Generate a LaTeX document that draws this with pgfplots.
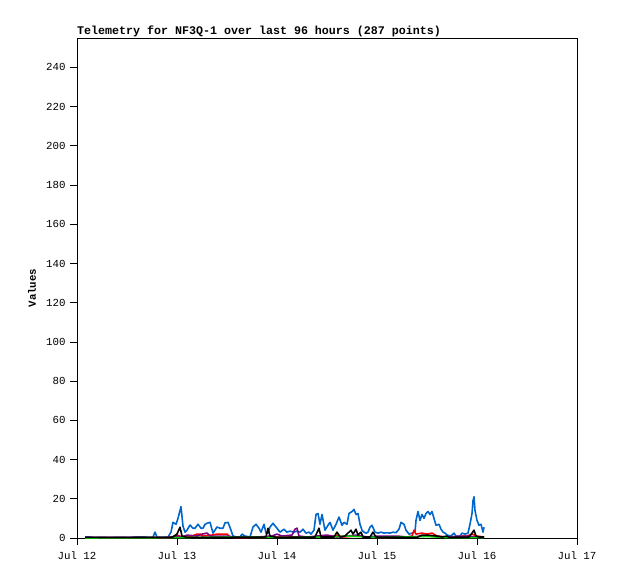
\documentclass[border=0pt]{standalone}
\usepackage{pgfplots}
\pgfplotsset{compat=1.18}
\usepackage{fontspec}
\setmainfont{Liberation Mono}
\definecolor{cblue}{RGB}{0,102,204}
\definecolor{cpurple}{RGB}{128,0,128}
\definecolor{cgreen}{RGB}{0,204,0}
\begin{document}
\begin{tikzpicture}
\begin{axis}[name=ax,
  width=500bp, height=500bp, scale only axis,
  xmin=0, xmax=5, ymin=0, ymax=255,
  xtick={0,1,2,3,4,5},
  xticklabels={Jul 12,Jul 13,Jul 14,Jul 15,Jul 16,Jul 17},
  ytick={0,20,...,240},
  tick pos=left, tick align=outside, major tick length=7bp,
  tick style={black, line width=0.8pt},
  axis line style={line width=0.8pt},
  /pgf/number format/assume math mode=true,
  ticklabel style={font=\fontsize{10.8}{12}\selectfont},
  yticklabel style={xshift=-1bp},
  xticklabel style={yshift=-3bp},
  title={Telemetry for NF3Q-1 over last 96 hours (287 points)},
  title style={at={(0,1)}, anchor=base west, inner sep=0pt, yshift=-2.5bp, font=\bfseries\fontsize{11.7}{13}\selectfont},
  ylabel={Values},
  ylabel style={at={(axis description cs:-0.09,0.5)}, anchor=center, font=\bfseries\fontsize{10.8}{12}\selectfont},
  every axis plot/.append style={line width=1.6pt, line join=round},
]
\addplot[cblue] coordinates {(0.08,0.5)(0.13,0.5)(0.18,0.2)(0.23,0.3)(0.33,0.2)(0.43,0.3)(0.53,0.2)(0.58,0.5)(0.63,0.5)(0.68,0.5)(0.73,0.2)(0.76,0.5)(0.78,3)(0.80,0.5)(0.85,0.3)(0.91,0.5)(0.94,3)(0.96,8)(0.99,7)(1.01,10)(1.03,14)(1.04,16)(1.06,6)(1.08,3)(1.10,4)(1.13,6.6)(1.16,5)(1.18,5)(1.21,7)(1.24,5)(1.26,5)(1.28,7)(1.30,7.5)(1.33,8)(1.36,2.5)(1.40,5.6)(1.43,5)(1.46,5)(1.48,7.7)(1.51,8)(1.54,4)(1.56,1)(1.60,0.5)(1.63,0.5)(1.65,2)(1.68,1)(1.73,0.5)(1.76,5.6)(1.79,7)(1.82,5)(1.84,3)(1.87,7)(1.89,2.5)(1.91,2.5)(1.93,5.6)(1.96,7.5)(1.99,5.6)(2.03,3)(2.07,4.5)(2.10,3)(2.13,3.5)(2.17,3)(2.20,3.5)(2.23,3)(2.26,4.5)(2.29,2.5)(2.32,3)(2.34,2)(2.37,4)(2.39,12)(2.41,12.5)(2.43,7)(2.45,12)(2.48,4)(2.51,6.5)(2.53,8)(2.56,4)(2.59,7)(2.62,10.7)(2.65,6.5)(2.67,8)(2.70,7)(2.72,12.5)(2.75,13.5)(2.77,14.6)(2.79,12)(2.81,12.5)(2.83,7)(2.85,4)(2.87,3)(2.89,2.5)(2.91,3)(2.93,5.5)(2.95,6.5)(2.98,3)(3.01,2.5)(3.04,3)(3.07,2.5)(3.10,2.7)(3.13,2.5)(3.16,3)(3.19,2.7)(3.22,4.5)(3.24,8)(3.27,7)(3.29,4)(3.32,2)(3.35,2.5)(3.38,3)(3.39,9)(3.41,13.5)(3.43,9)(3.45,12)(3.47,10)(3.49,12.5)(3.51,13.5)(3.53,12)(3.55,13.5)(3.57,10)(3.59,6.5)(3.62,7)(3.64,4.5)(3.66,3)(3.68,2.5)(3.70,1.5)(3.74,1)(3.77,2.5)(3.79,1)(3.83,1)(3.85,2.5)(3.88,2)(3.91,2.5)(3.93,7)(3.95,12.5)(3.96,19)(3.97,21)(3.98,14)(4.00,9)(4.02,6.5)(4.04,7)(4.06,3)(4.07,5.5)};
\addplot[red] coordinates {(0.08,0.2)(0.95,0.2)(1.00,1.5)(1.05,0.5)(1.15,1)(1.20,2)(1.23,2)(1.25,1)(1.35,1.5)(1.40,2)(1.45,2)(1.50,2)(1.53,0.5)(1.60,0.2)(2.00,0.5)(2.30,0.5)(2.50,0.5)(2.62,1.5)(2.65,0.5)(2.80,1)(2.90,0.5)(3.00,0.3)(3.30,0.5)(3.35,1)(3.37,4)(3.39,2)(3.45,2.5)(3.50,2)(3.55,2.5)(3.60,1)(3.70,0.5)(3.90,1)(3.95,2)(4.00,1)(4.07,0.5)};
\addplot[cpurple] coordinates {(0.08,0.3)(0.30,0.3)(0.90,0.3)(1.00,1)(1.05,0.5)(1.10,1.5)(1.20,1)(1.25,2)(1.30,2.5)(1.33,1)(1.40,1)(1.50,1)(1.60,0.3)(1.80,0.5)(1.95,1)(2.00,2)(2.05,1)(2.15,1.5)(2.18,4.5)(2.20,5)(2.22,1)(2.30,0.5)(2.40,1)(2.50,1.5)(2.60,0.5)(2.70,1)(2.80,1.5)(2.90,0.5)(3.00,1)(3.20,1)(3.30,0.5)(3.50,1)(3.70,0.5)(3.90,1)(4.00,0.5)(4.07,0.3)};
\addplot[cgreen] coordinates {(0.08,0)(1.00,0.2)(1.50,0.5)(2.00,0.3)(2.50,0.5)(2.70,1)(3.00,0.3)(3.50,0.8)(3.70,0.2)(4.07,0.2)};
\addplot[black] coordinates {(0.08,0.3)(0.50,0.3)(0.95,0.3)(1.00,2)(1.03,5.5)(1.05,1)(1.10,0.3)(1.40,0.3)(1.89,0.5)(1.91,5)(1.93,1)(2.00,0.3)(2.38,0.5)(2.42,5)(2.44,0.5)(2.57,0.5)(2.60,3)(2.63,0.5)(2.68,1)(2.72,3)(2.74,4)(2.76,2)(2.79,4.5)(2.81,1.5)(2.84,3)(2.86,0.5)(2.93,0.5)(2.96,3)(2.99,0.5)(3.40,0.3)(3.45,1.5)(3.50,1.5)(3.60,1)(3.65,0.5)(3.70,1)(3.72,0.3)(3.92,0.5)(3.95,2.5)(3.97,4)(3.99,1)(4.02,0.5)(4.07,0.5)};
\end{axis}
\path ([xshift=-77bp,yshift=-41bp]ax.south west) rectangle ([xshift=41bp,yshift=38bp]ax.north east);
\end{tikzpicture}
\end{document}
